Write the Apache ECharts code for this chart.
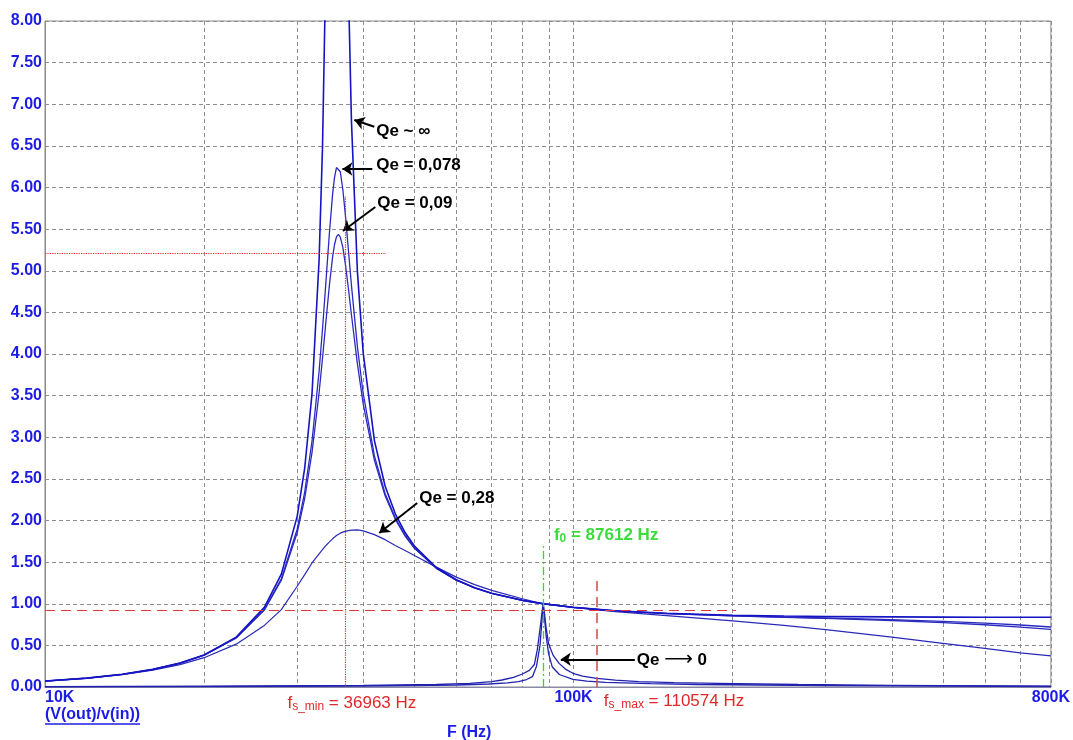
<!DOCTYPE html>
<html>
<head>
<meta charset="utf-8">
<script src="https://cdn.jsdelivr.net/npm/echarts@6/dist/echarts.min.js"></script>
<style>
html, body { margin: 0; padding: 0; background: #fff; }
#chart { width: 1073px; height: 740px; }
</style>
</head>
<body>
<div id="chart"></div>
<script>
// frequencies (Hz) for the four wide curves
var freqBroad = [10000, 12000, 14000, 16000, 18000, 20000, 23000, 26000, 28000, 30000,
  31000, 32000, 33000, 33500, 34000, 34500, 35000, 35300, 35600, 35900,
  36200, 36600, 37000, 37500, 38000, 39000, 40000, 42000, 44000, 46000,
  48000, 50000, 55000, 60000, 65000, 70000, 80000, 87612, 100000, 120000,
  150000, 200000, 250000, 300000, 400000, 500000, 600000, 700000, 800000];

var gainQinf = [0.072, 0.107, 0.153, 0.212, 0.287, 0.385, 0.599, 0.956, 1.356, 2.05,
  2.63, 3.52, 5.12, 6.49, 8.72, 13.0, 24.6, 50.6, 300, 48.6,
  25.0, 15.34, 11.17, 8.41, 6.80, 4.99, 4.01, 2.96, 2.415, 2.08,
  1.855, 1.693, 1.436, 1.288, 1.192, 1.126, 1.041, 1.0, 0.956, 0.916,
  0.885, 0.862, 0.852, 0.847, 0.842, 0.839, 0.838, 0.837, 0.837];

var gain078 = [0.0715, 0.1069, 0.1525, 0.2107, 0.2854, 0.3824, 0.5908, 0.9315, 1.300, 1.895,
  2.342, 2.952, 3.787, 4.300, 4.863, 5.430, 5.915, 6.121, 6.240, 6.261,
  6.189, 5.976, 5.675, 5.249, 4.825, 4.088, 3.523, 2.776, 2.325, 2.030,
  1.824, 1.672, 1.428, 1.284, 1.191, 1.125, 1.041, 1.0, 0.956, 0.915,
  0.882, 0.856, 0.841, 0.829, 0.809, 0.789, 0.768, 0.745, 0.721];

var gain09 = [0.0715, 0.1069, 0.1523, 0.2104, 0.2849, 0.3815, 0.5882, 0.9239, 1.283, 1.851,
  2.267, 2.816, 3.531, 3.949, 4.388, 4.811, 5.164, 5.315, 5.408, 5.437,
  5.405, 5.280, 5.085, 4.787, 4.471, 3.881, 3.398, 2.722, 2.298, 2.014,
  1.814, 1.666, 1.425, 1.283, 1.190, 1.125, 1.041, 1.0, 0.956, 0.914,
  0.881, 0.854, 0.837, 0.824, 0.799, 0.774, 0.748, 0.720, 0.692];

var gain028 = [0.0705, 0.1047, 0.148, 0.202, 0.269, 0.352, 0.515, 0.74, 0.93, 1.21,
  1.35, 1.49, 1.60, 1.65, 1.70, 1.74, 1.78, 1.80, 1.82, 1.835,
  1.848, 1.86, 1.87, 1.878, 1.884, 1.887, 1.875, 1.83, 1.77, 1.70,
  1.64, 1.58, 1.44, 1.32, 1.23, 1.16, 1.06, 1.0, 0.955, 0.905,
  0.857, 0.795, 0.74, 0.69, 0.60, 0.525, 0.465, 0.41, 0.375];

// the two narrow peaks at f0 (Qe -> 0)
var freqNarrowA = [10000, 20000, 40000, 55000, 63600, 70000, 73200, 77000, 80000, 82500,
  84300, 85400, 86500, 87100, 87612, 88200, 88700, 89700, 91500, 93900,
  96500, 99700, 104000, 110600, 120000, 132800, 155000, 187700, 266000, 400000, 800000];
var gainNarrowA = [0.004, 0.01, 0.02, 0.03, 0.044, 0.065, 0.084, 0.115, 0.156, 0.20,
  0.27, 0.45, 0.72, 0.88, 1.0, 0.86, 0.72, 0.52, 0.38, 0.284,
  0.215, 0.165, 0.13, 0.104, 0.082, 0.064, 0.052, 0.044, 0.03, 0.02, 0.01];

var freqNarrowB = [10000, 20000, 40000, 60000, 69100, 75000, 78700, 81500, 83600, 85100,
  86400, 87100, 87612, 88200, 88800, 89700, 91100, 94000, 99700, 106000,
  114900, 140000, 172000, 300000, 800000];
var gainNarrowB = [0.002, 0.005, 0.012, 0.024, 0.036, 0.05, 0.064, 0.09, 0.124, 0.25,
  0.5, 0.78, 1.0, 0.8, 0.6, 0.4, 0.244, 0.15, 0.092, 0.07,
  0.056, 0.04, 0.03, 0.018, 0.006];

// axis ticks
var gridFreqs = [10000, 20000, 30000, 40000, 50000, 60000, 70000, 80000, 90000, 100000,
  200000, 300000, 400000, 500000, 600000, 700000, 800000];
var labelFreqs = [10000, 100000, 800000];

// marker values
var fsMin = 36963, fsMax = 110574, f0 = 87612;
var gainAtFsMin = 5.21, gainMinLevel = 0.925;

var FONT = '"Liberation Sans", Arial, sans-serif';
var BLUE = '#1c1ce6';

function pairs(xs, ys) {
  var out = [];
  for (var i = 0; i < xs.length; i++) out.push([xs[i], ys[i]]);
  return out;
}

var chart = echarts.init(document.getElementById('chart'));

function curve(name, xs, ys, color, width) {
  return {
    name: name,
    type: 'line',
    data: pairs(xs, ys),
    showSymbol: false,
    symbol: 'none',
    smooth: false,
    silent: true,
    lineStyle: { color: color, width: width }
  };
}

var sInf = curve('Qe ~ inf', freqBroad, gainQinf, '#1414c4', 1.6);
var s078 = curve('Qe = 0,078', freqBroad, gain078, '#2a2ac0', 1.3);
var s09 = curve('Qe = 0,09', freqBroad, gain09, '#2a2ac0', 1.3);
var s028 = curve('Qe = 0,28', freqBroad, gain028, '#2a2ab8', 1.2);
var sNa = curve('Qe -> 0 a', freqNarrowA, gainNarrowA, '#2222b0', 1.3);
var sNb = curve('Qe -> 0 b', freqNarrowB, gainNarrowB, '#2222b0', 1.3);

// fine red dotted lines at fs_min
s09.markLine = {
  silent: true,
  symbol: ['none', 'none'],
  label: { show: false },
  animation: false,
  lineStyle: { color: '#f01818', width: 1.2, type: 'dotted', opacity: 1 },
  data: [
    [{ coord: [fsMin, 0] }, { coord: [fsMin, 5.89] }],
    [{ coord: [10000, gainAtFsMin] }, { coord: [44200, gainAtFsMin] }]
  ]
};

// dashed reference lines
s028.markLine = {
  silent: true,
  symbol: ['none', 'none'],
  label: { show: false },
  animation: false,
  data: [
    [{ coord: [10000, gainMinLevel], lineStyle: { color: '#e83838', width: 1, type: [10, 6] } }, { coord: [203000, gainMinLevel] }],
    [{ coord: [fsMax, 0], lineStyle: { color: '#d04848', width: 1.5, type: [10, 6] } }, { coord: [fsMax, 1.30] }],
    [{ coord: [f0, 0], lineStyle: { color: '#22e022', width: 1.3, type: [8, 3, 2, 3] } }, { coord: [f0, 1.69] }]
  ]
};

// annotation arrows (tail -> head)
sNa.markLine = {
  silent: true,
  symbol: ['none', 'arrow'],
  symbolSize: 10,
  label: { show: false },
  animation: false,
  itemStyle: { color: '#000' },
  lineStyle: { color: '#000', width: 2, type: 'solid' },
  data: [
    [{ coord: [41980, 6.73] }, { coord: [38480, 6.81] }],
    [{ coord: [41620, 6.222] }, { coord: [36530, 6.222] }],
    [{ coord: [42160, 5.766] }, { coord: [36610, 5.477] }],
    [{ coord: [50610, 2.21] }, { coord: [42900, 1.85] }],
    [{ coord: [130600, 0.333] }, { coord: [94600, 0.333] }]
  ]
};

var option = {
  animation: false,
  backgroundColor: '#fff',
  grid: { left: 45, right: 20, top: 21, bottom: 53, show: true, borderColor: '#8a8a8a', borderWidth: 1 },
  xAxis: {
    type: 'log',
    logBase: 10,
    min: 10000,
    max: 800000,
    axisLine: { show: true, lineStyle: { color: '#8a8aa8', width: 1 } },
    axisTick: { show: false, customValues: gridFreqs },
    axisLabel: {
      customValues: labelFreqs,
      formatter: function (v) { return Math.round(v / 1000) + 'K'; },
      color: BLUE,
      fontWeight: 'bold',
      fontSize: 16,
      fontFamily: FONT,
      margin: 3,
      alignMinLabel: 'left',
      showMinLabel: true,
      showMaxLabel: true
    },
    splitLine: { show: true, lineStyle: { color: '#8e8e8e', width: 1, type: [4, 3] } }
  },
  yAxis: {
    type: 'value',
    min: 0,
    max: 8,
    interval: 0.5,
    axisLine: { show: true, lineStyle: { color: '#8a8a8a', width: 1 } },
    axisTick: { show: false },
    axisLabel: {
      formatter: function (v) { return v.toFixed(2); },
      color: BLUE,
      fontWeight: 'bold',
      fontSize: 16,
      fontFamily: FONT,
      margin: 3
    },
    splitLine: { show: true, lineStyle: { color: '#8e8e8e', width: 1, type: [4, 3] } }
  },
  series: [sNa, sNb, s028, s09, s078, sInf]
};

chart.setOption(option);

// text annotations, placed in data coordinates
function px(f, v) { return chart.convertToPixel({ gridIndex: 0 }, [f, v]); }

function note(f, v, text, rich, fill, weight) {
  var p = px(f, v);
  var style = {
    text: text,
    x: 0, y: 0,
    fill: fill,
    fontSize: 17,
    fontWeight: weight,
    fontFamily: FONT,
    align: 'left',
    verticalAlign: 'middle'
  };
  if (rich) style.rich = rich;
  return { type: 'text', x: p[0], y: p[1], silent: true, style: style };
}

function subRich(color, weight) {
  return {
    m: { fontSize: 17, fontWeight: weight, fill: color, color: color, fontFamily: FONT, lineHeight: 20 },
    s: { fontSize: 12, fontWeight: weight, fill: color, color: color, fontFamily: FONT, lineHeight: 10, verticalAlign: 'bottom' }
  };
}

var arrowRich = {
  m: { fontSize: 17, fontWeight: 'bold', fill: '#000', fontFamily: FONT, lineHeight: 20 },
  a: { fontSize: 20, fontWeight: 'normal', fill: '#000', fontFamily: '"DejaVu Sans", sans-serif', lineHeight: 20 }
};

var graphics = [
  note(42330, 6.679, 'Qe ~ \u221e', null, '#000', 'bold'),
  note(42330, 6.27, 'Qe = 0,078', null, '#000', 'bold'),
  note(42530, 5.814, 'Qe = 0,09', null, '#000', 'bold'),
  note(51050, 2.27, 'Qe = 0,28', null, '#000', 'bold'),
  note(131700, 0.324, '{m|Qe }{a|\u27f6}{m| 0}', arrowRich, '#000', 'bold'),
  note(91800, 1.826, '{m|f}{s|0}{m| = 87612 Hz}', subRich('#3ddc3d', 'bold'), '#3ddc3d', 'bold'),
  note(28750, -0.19, '{m|f}{s|s_min}{m| = 36963 Hz}', subRich('#e0282a', 'normal'), '#e0282a', 'normal'),
  note(114100, -0.17, '{m|f}{s|s_max}{m| = 110574 Hz}', subRich('#e0282a', 'normal'), '#e0282a', 'normal')
];

// y quantity name under the axis, underlined, and the x axis name
var yTitle = '(V(out)/v(in))';
var origin = px(10000, 0);
var ctx = document.createElement('canvas').getContext('2d');
ctx.font = 'bold 16px ' + FONT;
var titleW = ctx.measureText(yTitle).width;
graphics.push({
  type: 'text', x: origin[0], y: origin[1] + 28, silent: true,
  style: { text: yTitle, fill: BLUE, fontSize: 16, fontWeight: 'bold', fontFamily: FONT, align: 'left', verticalAlign: 'middle' }
});
graphics.push({
  type: 'line', silent: true,
  shape: { x1: origin[0], y1: origin[1] + 37, x2: origin[0] + titleW, y2: origin[1] + 37 },
  style: { stroke: BLUE, lineWidth: 1.5 }
});
graphics.push({
  type: 'text', x: origin[0] + 402, y: origin[1] + 46, silent: true,
  style: { text: 'F (Hz)', fill: BLUE, fontSize: 16, fontWeight: 'bold', fontFamily: FONT, align: 'left', verticalAlign: 'middle' }
});

chart.setOption({ graphic: graphics });
</script>
</body>
</html>
